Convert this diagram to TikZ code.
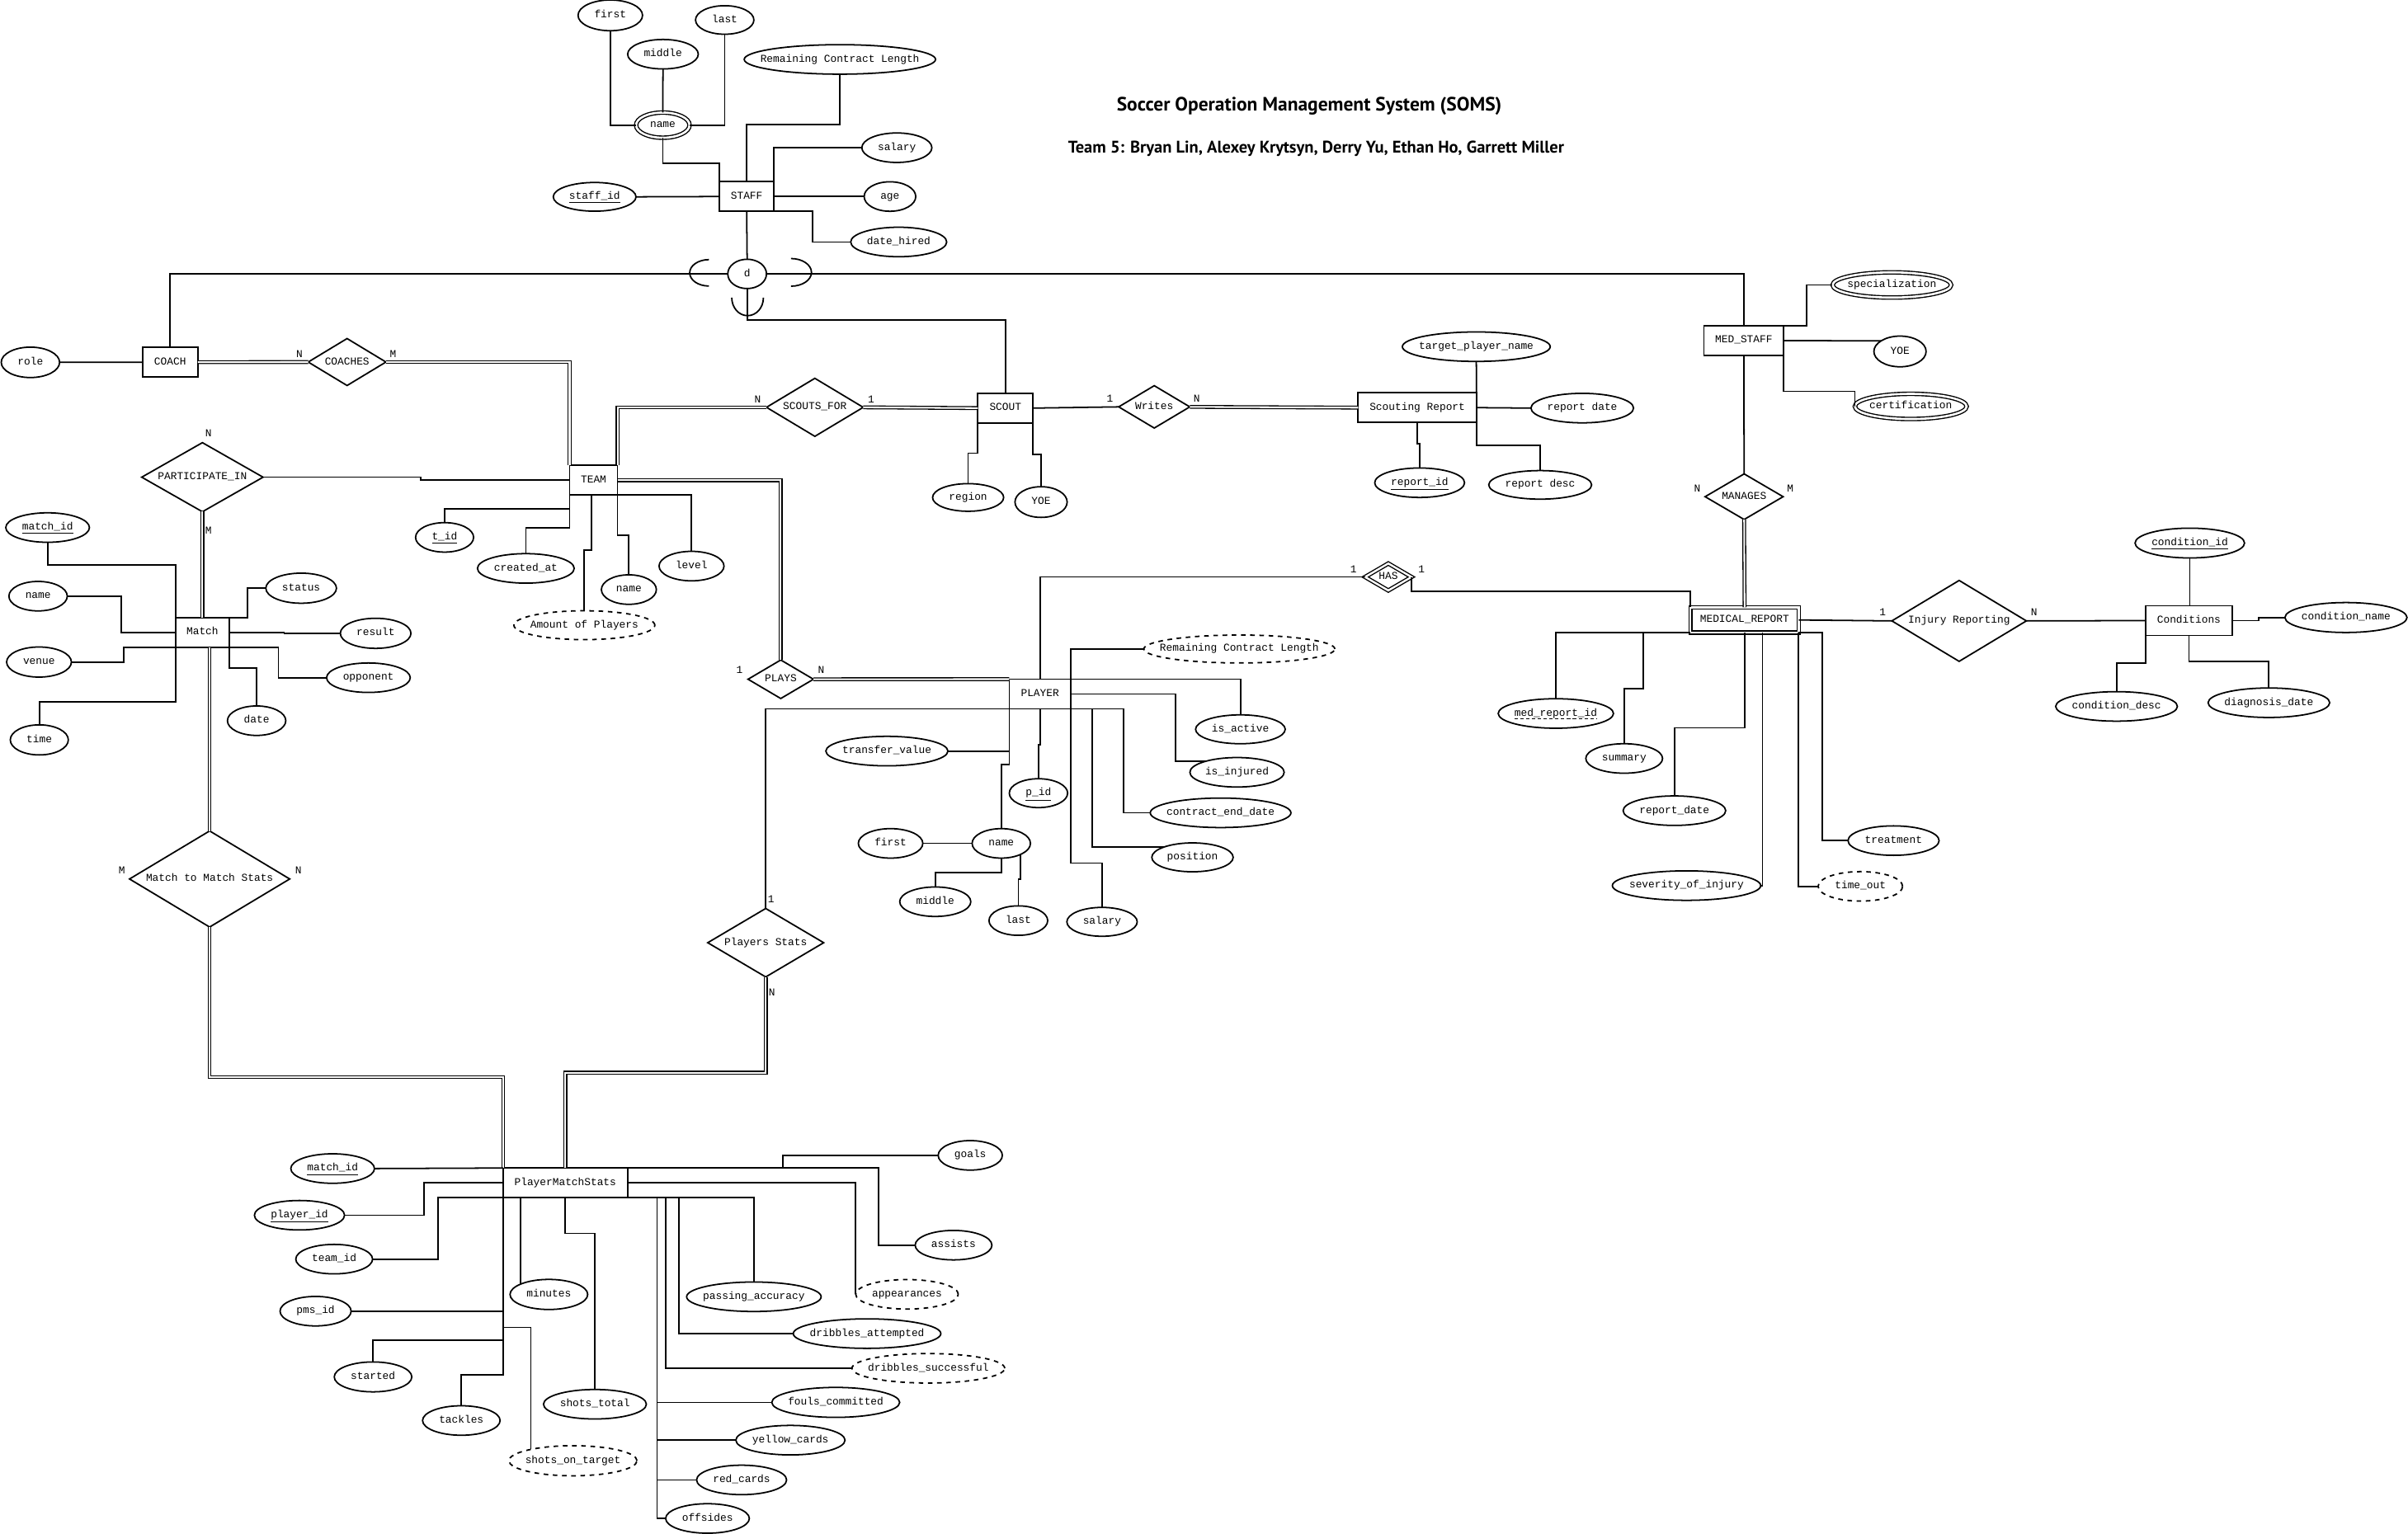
\documentclass[tikz,border=0pt]{standalone}
\usepackage{fontspec}
\setmonofont{Liberation Mono}
\newfontfamily\headfont{PT Sans}
\usetikzlibrary{shapes.geometric}
% zero-width text box: shape sizes come from the minimum width/height only
\newcommand{\zb}[1]{\makebox[0pt]{#1}}
\newcommand{\erfont}{\ttfamily\fontsize{6.9pt}{8pt}\selectfont}
\begin{document}
\begin{tikzpicture}[x=1pt,y=-1pt,line width=0.95pt,
  every node/.style={font=\erfont, inner sep=0pt, outer sep=0pt, text height=4.6pt, text depth=1.3pt},
  ent/.style={rectangle, draw, line width=0.95pt, minimum height=19.3, minimum width=#1},
  went/.style={rectangle, draw, line width=0.75pt, double, double distance=1.3pt, minimum height=16.4, minimum width=#1},
  attr/.style={ellipse, draw, line width=0.95pt, minimum height=19.2, minimum width=#1},
  dattr/.style={attr=#1, dashed},
  mattr/.style={ellipse, draw, line width=0.75pt, double, double distance=1.4pt, minimum height=16.4, minimum width=#1},
  rel/.style 2 args={diamond, draw, line width=0.95pt, minimum width=#1, minimum height=#2},
  wrel/.style 2 args={diamond, draw, line width=0.75pt, double, double distance=1.3pt, minimum width=#1, minimum height=#2},
  dbl/.style={double, line width=0.7pt, double distance=1.1pt},
]
\useasboundingbox (0,0) rectangle (1568,999);

% ---------- heading ----------
\node[anchor=base west, font=\headfont\bfseries\fontsize{12.6}{14}\selectfont] (title) at (727.2,72.2) {Soccer Operation Management System (SOMS)};
\node[anchor=base west, font=\headfont\bfseries\fontsize{11}{13}\selectfont] (authors) at (695.5,99.4) {Team 5: Bryan Lin, Alexey Krytsyn, Derry Yu, Ethan Ho, Garrett Miller};

% ---------- entities ----------
\node[ent=35.5] (staff) at (486.2,128) {\zb{STAFF}};
\node[ent=36] (coach) at (110.8,235.9) {\zb{COACH}};
\node[ent=36] (scout) at (654.7,265.8) {\zb{SCOUT}};
\node[ent=52.1] (medstaff) at (1135.5,221.8) {\zb{MED\_STAFF}};
\node[ent=77.1] (srep) at (922.9,265.5) {\zb{Scouting Report}};
\node[ent=31.2] (team) at (386.5,312.8) {\zb{TEAM}};
\node[ent=35] (match) at (131.8,411.9) {\zb{Match}};
\node[ent=40] (player) at (677.2,452) {\zb{PLAYER}};
\node[went=70.4] (mrep) at (1136,403.8) {\zb{MEDICAL\_REPORT}};
\node[ent=56.5] (cond) at (1425.3,404.2) {\zb{Conditions}};
\node[ent=81] (pms) at (368.1,770.4) {\zb{PlayerMatchStats}};

% ---------- relationships ----------
\node[rel={50.6}{30.6}] (coaches) at (226,235.8) {\zb{COACHES}};
\node[rel={79}{45}] (partin) at (131.8,310.8) {\zb{PARTICIPATE\_IN}};
\node[rel={63}{37.8}] (scoutsfor) at (530.6,265.3) {\zb{SCOUTS\_FOR}};
\node[rel={46.3}{27.6}] (writes) at (751.6,265) {\zb{Writes}};
\node[rel={50.8}{29.7}] (manages) at (1135.7,323.5) {\zb{MANAGES}};
\node[rel={42.6}{25.1}] (plays) at (508.4,442.4) {\zb{PLAYS}};
\node[wrel={30.2}{17.6}] (has) at (904,375.8) {\zb{HAS}};
\node[rel={104.3}{62.6}] (mtms) at (136.5,572.5) {\zb{Match to Match Stats}};
\node[rel={75.5}{44.6}] (pstats) at (498.6,614) {\zb{Players Stats}};
\node[rel={87.6}{52.7}] (injrep) at (1275.7,404.4) {\zb{Injury Reporting}};

% ---------- specialisation of STAFF ----------
\node[ellipse, draw, minimum width=25.2, minimum height=19.1] (disj) at (486.5,178.4) {\zb{d}};
\draw (staff.south) -- (disj.north);
\draw (coach.north) |- (disj.west);
\draw (disj.east) -| (medstaff.north);
\draw (disj.south) -- ++(0,20.4) -| (scout.north);
\draw (461.6,186.3) arc[start angle=90, end angle=270, x radius=12.5, y radius=8.6];
\draw (515.1,168.4) arc[start angle=-90, end angle=90, x radius=13.3, y radius=9];
\draw (497.1,193.9) arc[start angle=0, end angle=180, x radius=10.3, y radius=11.7];

% ---------- STAFF attributes ----------
\node[mattr=34.8] (sname) at (431.6,81.5) {\zb{name}};
\node[attr=42, minimum height=20] (sfirst) at (397.4,10) {\zb{first}};
\node[attr=46] (smiddle) at (431.7,35.3) {\zb{middle}};
\node[attr=38, minimum height=18.6] (slast) at (471.9,13) {\zb{last}};
\node[attr=124.6] (srcl) at (546.9,38.7) {\zb{Remaining Contract Length}};
\node[attr=45.6] (ssalary) at (584,96.2) {\zb{salary}};
\node[attr=53.9, minimum height=18.7] (staffid) at (387.2,128.2) {\zb{\underline{staff\_id}}};
\node[attr=33.6] (sage) at (579.5,128) {\zb{age}};
\node[attr=62.5] (shired) at (585.2,157.6) {\zb{date\_hired}};
\draw (sfirst.south) |- (sname.west);
\draw (smiddle.south) -- (sname.north);
\draw (slast.south) |- (sname.east);
\draw (sname.south) -- ++(0,16.5) -| (staff.north west);
\draw (srcl.south) -- ++(0,32.7) -| (staff.north);
\draw (staff.north east) |- (ssalary.west);
\draw (staffid.east) -- (staff.west);
\draw (staff.east) -- (sage.west);
\draw (staff.south east) -- ++(25,0) |- (shired.west);

% ---------- COACH ----------
\node[attr=38, minimum height=19.8] (role) at (19.8,236) {\zb{role}};
\draw (role.east) -- (coach.west);
\draw[dbl] (coach.east) -- (coaches.west);
\draw[dbl] (coaches.east) -| (team.north west);

% ---------- TEAM ----------
\node[attr=37.8] (tid) at (289.5,350) {\zb{\underline{t\_id}}};
\node[attr=63] (tcreated) at (342.4,370.2) {\zb{created\_at}};
\node[dattr=91.8, minimum height=18.8] (tamount) at (380.5,407.2) {\zb{Amount of Players}};
\node[attr=35.8] (tname) at (409.5,384) {\zb{name}};
\node[attr=42.3] (tlevel) at (450.3,368.7) {\zb{level}};
\draw (partin.east) -- ++(102.8,0) |- (team.west);
\draw[dbl] (partin.south) -- (match.north);
\draw[dbl] (scoutsfor.west) -| (team.north east);
\draw[dbl] (scoutsfor.east) -- (scout.west);
\draw[dbl] (team.east) -| (plays.north);
\draw[dbl] (plays.east) -- (player.north west);
\draw (team.south west) -- ++(0,8.8) -| (tid.north);
\draw (team.south west) -- ++(0,21.5) -| (tcreated.north);
\draw (team.south west) ++(14.3,0) -- ++(0,36) -| (tamount.north);
\draw (team.south east) -- ++(0,26) -| (tname.north);
\draw (team.south east) -| (tlevel.north);

% ---------- SCOUT and Scouting Report ----------
\node[attr=46.3, minimum height=18] (region) at (630.4,324) {\zb{region}};
\node[attr=34, minimum height=20] (syoe) at (677.9,327) {\zb{YOE}};
\node[attr=96.3] (tpname) at (961.3,225.8) {\zb{target\_player\_name}};
\node[attr=66.8] (srdate) at (1030.3,265.8) {\zb{report date}};
\node[attr=58.5] (reportid) at (924.4,314.4) {\zb{\underline{report\_id}}};
\node[attr=67, minimum height=18.6] (srdesc) at (1002.9,315.8) {\zb{report desc}};
\draw (scout.east) -- (writes.west);
\draw[dbl] (writes.east) -- (srep.west);
\draw (scout.south west) -- ++(0,19.7) -| (region.north);
\draw (scout.south east) -- ++(0,20.4) -| (syoe.north);
\draw (tpname.south) -- (srep.north east);
\draw (srep.east) -- (srdate.west);
\draw (srep.south) -- ++(0,14) -| (reportid.north);
\draw (srep.south east) -- ++(0,14.9) -| (srdesc.north);

% ---------- MED_STAFF ----------
\node[mattr=77.2] (spec) at (1231.9,185.6) {\zb{specialization}};
\node[attr=34, minimum height=20] (myoe) at (1237.2,228.9) {\zb{YOE}};
\node[mattr=72.8] (cert) at (1244.2,264.7) {\zb{certification}};
\draw (medstaff.south) -- (manages.north);
\draw (medstaff.north east) -- ++(14.9,0) |- (spec.west);
\draw (medstaff.east) -- (myoe.151);
\draw (medstaff.south east) -- ++(0,23.4) -| (cert.west);
\draw[dbl] (manages.south) -- (mrep.north);

% ---------- Match ----------
\node[attr=54.5] (mid) at (31,343.6) {\zb{\underline{match\_id}}};
\node[attr=38] (mname) at (24.8,388.3) {\zb{name}};
\node[attr=42.2, minimum height=19.6] (mvenue) at (25.4,431.2) {\zb{venue}};
\node[attr=37.8, minimum height=19.6] (mtime) at (25.6,481.9) {\zb{time}};
\node[attr=46, minimum height=19.6] (mstatus) at (196.1,383.1) {\zb{status}};
\node[attr=46, minimum height=19.6] (mresult) at (244.6,412.5) {\zb{result}};
\node[attr=54.5] (mopp) at (239.9,441.4) {\zb{opponent}};
\node[attr=38] (mdate) at (167.1,469.4) {\zb{date}};
\draw (mid.south) -- ++(0,14.6) -| (match.north west);
\draw (mname.east) -- ++(35.2,0) |- (match.west);
\draw (mvenue.east) -- ++(34,0) |- (match.south west);
\draw (mtime.north) -- ++(0,-14.8) -| (match.south west);
\draw (match.north east) -- ++(12,0) |- (mstatus.west);
\draw (match.east) -- ++(35.8,0) |- (mresult.west);
\draw (match.south east) -- ++(32,0) |- (mopp.west);
\draw (match.south east) -- ++(0,13.4) -| (mdate.north);
\draw[dbl] (mtms.north |- match.south) -- (mtms.north);
\draw[dbl] (mtms.south) -- ++(0,97.7) -| (pms.north west);

% ---------- PLAYER ----------
\node[dattr=124.4, minimum height=18.2] (prcl) at (807,422.7) {\zb{Remaining Contract Length}};
\node[attr=58.4, minimum height=18.8] (pactive) at (807.7,475) {\zb{is\_active}};
\node[attr=61.4] (pinjured) at (805.5,503) {\zb{is\_injured}};
\node[attr=91.6] (pced) at (794.8,529.4) {\zb{contract\_end\_date}};
\node[attr=53, minimum height=18.8] (ppos) at (776.5,558.4) {\zb{position}};
\node[attr=45.8, minimum height=18.8] (psalary) at (717.6,600.4) {\zb{salary}};
\node[attr=38, minimum height=18.8] (pid) at (676.2,516.6) {\zb{\underline{p\_id}}};
\node[attr=79.5] (ptv) at (577.5,489.2) {\zb{transfer\_value}};
\node[attr=38] (pname) at (652,549.3) {\zb{name}};
\node[attr=42] (pfirst) at (579.9,549.3) {\zb{first}};
\node[attr=46.3] (pmiddle) at (609,587.3) {\zb{middle}};
\node[attr=38.2] (plast) at (663.1,599.6) {\zb{last}};
\draw (pstats.north) |- (player.south west);
\draw (player.south west) -- ++(74.5,0) |- (pced.west);
\draw (player.south west) ++(53.8,0) |- (ppos.160);
\draw (player.north east) |- (prcl.west);
\draw (player.south east) -- ++(0,100.5) -| (psalary.north);
\draw (player.north east) -| (pactive.north);
\draw (player.east) -- ++(68.3,0) |- (pinjured.161);
\draw (player.south) -- ++(0,23.4) -| (pid.north);
\draw (player.south west) -- ++(0,36.1) -| (pname.north);
\draw (ptv.east) -- (ptv.east -| player.west);
\draw (pfirst.east) -- (pname.west);
\draw (pname.south) -- ++(0,9.3) -| (pmiddle.north);
\draw (pname.-30) -- ++(0,15.9) -| (plast.north);
\draw (player.north) |- (has.west);
\draw (has.east) -- ++(0,9.5) -| (mrep.north west);
\draw[dbl] (pstats.south) -- ++(0,62.3) -| (pms.north);

% ---------- MEDICAL_REPORT and Conditions ----------
\node[attr=75.1] (mrid) at (1013.1,464.7) {\zb{med\_report\_id}};
\draw[dashed, dash pattern=on 2.2pt off 1.6pt, line width=0.6pt] ([xshift=-27pt,yshift=-3.6pt]mrid.center) -- ++(54,0);
\node[attr=50] (msummary) at (1057.6,494) {\zb{summary}};
\node[attr=66.8] (mrdate) at (1090.3,528) {\zb{report\_date}};
\node[attr=96.6] (msev) at (1098.2,576.8) {\zb{severity\_of\_injury}};
\node[attr=59.3] (mtreat) at (1233,547.5) {\zb{treatment}};
\node[dattr=55] (mtimeout) at (1211.4,577.3) {\zb{time\_out}};
\node[attr=71.3, minimum height=19.4] (cid) at (1425.9,353.7) {\zb{\underline{condition\_id}}};
\node[attr=79.5, minimum height=19.5] (cname) at (1527.6,402.2) {\zb{condition\_name}};
\node[attr=79.3] (cdesc) at (1378.2,460.1) {\zb{condition\_desc}};
\node[attr=79.2] (cdiag) at (1477.4,457.7) {\zb{diagnosis\_date}};
\draw (mrep.south west) -| (mrid.north);
\path (mrep.south west) ++(-30.7,0) coordinate (mrsum);
\draw (mrsum) -- ++(0,36.5) -| (msummary.north);
\draw (mrep.south) -- ++(0,62) -| (mrdate.north);
\draw (mrep.south) ++(11.7,0) |- (msev.east);
\draw (mrep.south east) |- (mtimeout.west);
\draw (mrep.south east) -- ++(15.2,0) |- (mtreat.west);
\draw (mrep.east) -- (injrep.west);
\draw (injrep.east) -- (cond.west);
\draw (cid.south) -- (cid.south |- cond.north);
\draw (cond.east) -- ++(17.3,0) |- (cname.west);
\draw (cond.south west) -- ++(0,18.1) -| (cdesc.north);
\draw (cond.south) -- ++(0,17) -| (cdiag.north);

% ---------- PlayerMatchStats ----------
\node[attr=54.5] (pmid) at (216.6,761.1) {\zb{\underline{match\_id}}};
\node[attr=58.7] (ppid) at (195,791.5) {\zb{\underline{player\_id}}};
\node[attr=50] (pteam) at (217.6,820.1) {\zb{team\_id}};
\node[attr=46.3] (pmsid) at (205.5,854) {\zb{pms\_id}};
\node[attr=50.5, minimum height=19.5] (pstarted) at (242.9,896.8) {\zb{started}};
\node[attr=50.5] (ptackles) at (300.4,925.2) {\zb{tackles}};
\node[dattr=83.4, minimum height=19.6] (psot) at (373.1,951.4) {\zb{shots\_on\_target}};
\node[attr=50.6, minimum height=19.6] (pminutes) at (357.4,843.1) {\zb{minutes}};
\node[attr=67] (pstotal) at (387.4,914.6) {\zb{shots\_total}};
\node[attr=41.8] (pgoals) at (631.8,752.5) {\zb{goals}};
\node[attr=50] (passists) at (620.9,811) {\zb{assists}};
\node[dattr=66.8] (pappear) at (590.6,843) {\zb{appearances}};
\node[attr=87.6] (ppass) at (490.9,844.6) {\zb{passing\_accuracy}};
\node[attr=96.1] (pdratt) at (564.6,868.6) {\zb{dribbles\_attempted}};
\node[dattr=99.5] (pdrsucc) at (604.5,891.2) {\zb{dribbles\_successful}};
\node[attr=83.3, minimum height=19.5] (pfouls) at (544.2,913.4) {\zb{fouls\_committed}};
\node[attr=71.1] (pyellow) at (514.7,938) {\zb{yellow\_cards}};
\node[attr=58.6] (pred) at (482.9,963.9) {\zb{red\_cards}};
\node[attr=54.5] (poff) at (460.7,989) {\zb{offsides}};
\draw (pmid.east) -- (pms.north west);
\draw (ppid.east) -- ++(51.6,0) |- (pms.west);
\draw (pteam.east) -- ++(42.5,0) |- (pms.south west);
\draw (ptackles.north) -- ++(0,-20.2) -| (pms.south west);
\draw (pmsid.east) -| (pms.south west);
\draw (pstarted.north) -- ++(0,-14.2) -| (pms.south west);
\draw (pms.south west) ++(0,84.5) -| (psot.165);
\draw (pminutes.160) -- (pminutes.160 |- pms.south);
\draw (pms.south) -- ++(0,23.3) -| (pstotal.north);
\draw (pms.north east) -- ++(101,0) |- (pgoals.west);
\draw (pms.north east) -- ++(163.6,0) |- (passists.west);
\draw (pms.east) -| (pappear.west);
\draw (pms.south east) -| (ppass.north);
\path (pms.south east) ++(33.5,0) coordinate (stA) ++(-8.7,0) coordinate (stB) ++(-5.5,0) coordinate (stC);
\draw (stA) |- (pdratt.west);
\draw (stB) |- (pdrsucc.west);
\draw (stC) |- (poff.west);
\draw (pfouls.west) -- (pfouls.west -| stC);
\draw (pyellow.west) -- (pyellow.west -| stC);
\draw (pred.west) -- (pred.west -| stC);

% ---------- cardinalities ----------
\node (k1) at (195,231) {N};
\node (k2) at (256,231) {M};
\node (k3) at (135.8,283) {N};
\node (k4) at (135.8,346.2) {M};
\node (k5) at (493.4,260.8) {N};
\node (k6) at (567.2,260.8) {1};
\node (k7) at (722.7,260.2) {1};
\node (k8) at (779.3,260) {N};
\node (k9) at (1105.2,318.6) {N};
\node (k10) at (1165.7,318.6) {M};
\node (k11) at (481.6,437.1) {1};
\node (k12) at (534.7,437.1) {N};
\node (k13) at (881.3,371.2) {1};
\node (k14) at (925.6,371.2) {1};
\node (k15) at (79.3,567.7) {M};
\node (k16) at (194.3,567.7) {N};
\node (k17) at (502.1,586.4) {1};
\node (k18) at (502.6,646.9) {N};
\node (k19) at (1225.9,399.5) {1};
\node (k20) at (1324.5,399.5) {N};
\end{tikzpicture}
\end{document}
